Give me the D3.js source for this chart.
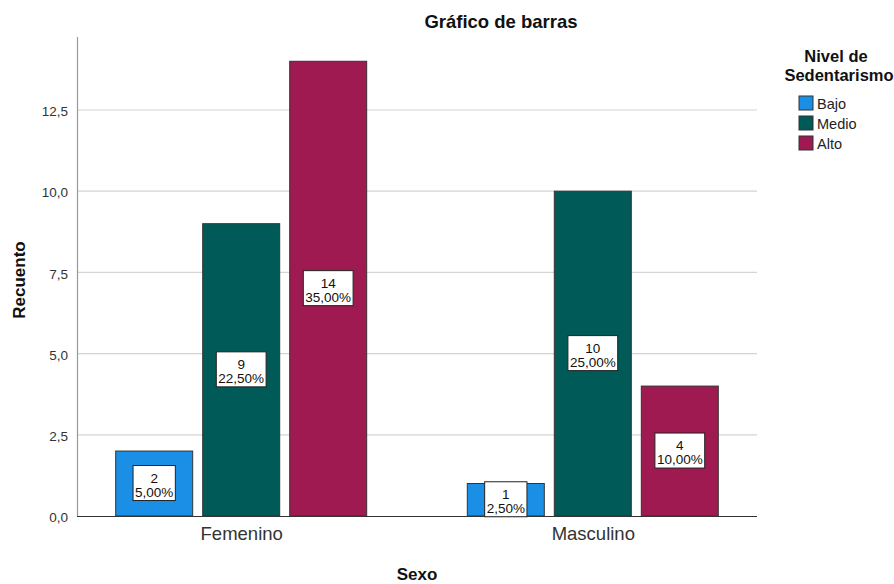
<!DOCTYPE html>
<html>
<head>
<meta charset="utf-8">
<script src="https://cdn.jsdelivr.net/npm/d3@7/dist/d3.min.js"></script>
<style>
  html, body { margin: 0; padding: 0; background: #fff; }
  svg { display: block; font-family: "Liberation Sans", Arial, sans-serif; }
</style>
</head>
<body>
<svg id="chart" width="894" height="584"></svg>
<script>
// Recuento por sexo y nivel de sedentarismo
const categories = ["Femenino", "Masculino"];
const levels = ["Bajo", "Medio", "Alto"];
const bajo  = [2, 1];
const medio = [9, 10];
const alto  = [14, 4];
const percents = {
  Bajo:  ["5,00%", "2,50%"],
  Medio: ["22,50%", "25,00%"],
  Alto:  ["35,00%", "10,00%"]
};
const yTicks = [0, 2.5, 5, 7.5, 10, 12.5];
const colors = ["#1b8fe5", "#005b58", "#9e1a50"];

const seriesValues = { Bajo: bajo, Medio: medio, Alto: alto };
const rows = [];
categories.forEach((c, i) => levels.forEach(l => rows.push({
  cat: c, level: l, value: seriesValues[l][i], pct: percents[l][i]
})));

const svg = d3.select("#chart");
const plotLeft = 77, plotRight = 757, plotTop = 37, plotBottom = 516;

const y = d3.scaleLinear().domain([0, 12.5]).range([plotBottom, 110]);
const x = d3.scalePoint().domain(categories).range([plotLeft, plotRight]).padding(0.467);
const inner = d3.scaleBand().domain(levels).range([-125.5, 125.5]).paddingInner(0.115);
const color = d3.scaleOrdinal().domain(levels).range(colors);
const fmt = d => d3.format(".1f")(d).replace(".", ",");

// gridlines
svg.append("g").selectAll("line").data(yTicks.filter(t => t > 0)).join("line")
  .attr("x1", plotLeft).attr("x2", plotRight)
  .attr("y1", d => y(d)).attr("y2", d => y(d))
  .attr("stroke", "#d4d4d4").attr("stroke-width", 1.2);

// y axis
const yAxis = svg.append("g").attr("transform", `translate(${plotLeft},0)`)
  .call(d3.axisLeft(y).tickValues(yTicks).tickFormat(fmt).tickSize(0).tickPadding(9));
yAxis.select(".domain").remove();
yAxis.selectAll("text").attr("font-size", 13.5).attr("fill", "#333").attr("dy", "0.42em")
  .attr("font-family", "Liberation Sans, Arial, sans-serif");
svg.append("line").attr("x1", plotLeft + 0.5).attr("x2", plotLeft + 0.5)
  .attr("y1", plotTop).attr("y2", plotBottom).attr("stroke", "#999").attr("stroke-width", 1.2);

// bars
svg.append("g").selectAll("rect").data(rows).join("rect")
  .attr("x", d => x(d.cat) + inner(d.level))
  .attr("width", inner.bandwidth())
  .attr("y", d => y(d.value))
  .attr("height", d => y(0) - y(d.value))
  .attr("fill", d => color(d.level))
  .attr("stroke", "#333").attr("stroke-width", 1);

// x axis baseline
svg.append("line").attr("x1", plotLeft).attr("x2", plotRight)
  .attr("y1", plotBottom + 0.5).attr("y2", plotBottom + 0.5).attr("stroke", "#333").attr("stroke-width", 1);

// x axis labels
const xAxis = svg.append("g").attr("transform", `translate(0,${plotBottom})`)
  .call(d3.axisBottom(x).tickSize(0).tickPadding(11));
xAxis.select(".domain").remove();
xAxis.selectAll("text").attr("font-size", 18.5).attr("fill", "#333")
  .attr("font-family", "Liberation Sans, Arial, sans-serif");

// value labels
const lab = svg.append("g").selectAll("g").data(rows).join("g")
  .attr("transform", d => `translate(${x(d.cat) + inner(d.level) + inner.bandwidth() / 2},${(y(d.value) + y(0)) / 2})`);
lab.append("rect").attr("fill", "#fff").attr("stroke", "#222").attr("stroke-width", 1);
const txt = lab.append("text").attr("text-anchor", "middle").attr("font-size", 13.5).attr("fill", "#111");
txt.append("tspan").attr("x", 0).attr("y", -1).text(d => d.value);
txt.append("tspan").attr("x", 0).attr("y", 13).text(d => d.pct);
lab.each(function() {
  const g = d3.select(this);
  const bb = g.select("text").node().getBBox();
  const w = bb.width + 4, h = 35;
  g.select("rect").attr("x", -w / 2).attr("y", -h / 2 - 0.5).attr("width", w).attr("height", h);
});

// titles
svg.append("text").attr("x", 501).attr("y", 28).attr("text-anchor", "middle")
  .attr("font-size", 18.5).attr("font-weight", "bold").attr("fill", "#111").text("Gráfico de barras");
svg.append("text").attr("x", 417).attr("y", 580).attr("text-anchor", "middle")
  .attr("font-size", 17).attr("font-weight", "bold").attr("fill", "#111").text("Sexo");
svg.append("text").attr("transform", `translate(25,280) rotate(-90)`)
  .attr("text-anchor", "middle").attr("font-size", 17).attr("font-weight", "bold").attr("fill", "#111").text("Recuento");

// legend
const legend = svg.append("g");
legend.append("text").attr("x", 836).attr("y", 62).attr("text-anchor", "middle")
  .attr("font-size", 16.5).attr("font-weight", "bold").attr("fill", "#111").text("Nivel de");
legend.append("text").attr("x", 839).attr("y", 81).attr("text-anchor", "middle")
  .attr("font-size", 16.5).attr("font-weight", "bold").attr("fill", "#111").text("Sedentarismo");
const items = legend.selectAll("g.item").data(levels).join("g").attr("class", "item")
  .attr("transform", (d, i) => `translate(799,${96 + i * 20})`);
items.append("rect").attr("width", 14).attr("height", 14)
  .attr("fill", d => color(d)).attr("stroke", "#333").attr("stroke-width", 1);
items.append("text").attr("x", 18).attr("y", 12.5).attr("font-size", 14.5).attr("fill", "#222").text(d => d);
</script>
</body>
</html>
